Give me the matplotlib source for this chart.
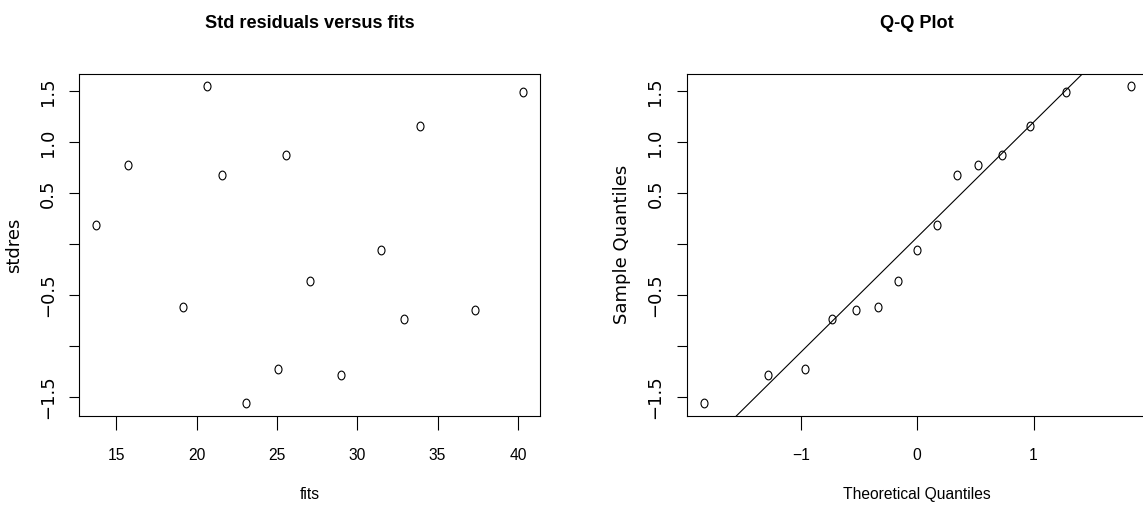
import matplotlib
matplotlib.use('Agg')
import matplotlib.pyplot as plt
import numpy as np
from matplotlib import font_manager
from matplotlib.path import Path
from matplotlib.transforms import Affine2D
from statistics import NormalDist

# values
fits = [13.73, 15.73, 19.16, 20.62, 21.60, 23.09, 25.07, 25.56,
        27.04, 29.00, 31.47, 32.93, 33.93, 37.33, 40.31]
stdres = [0.188, 0.782, -0.615, 1.549, 0.684, -1.559, -1.219, 0.880,
          -0.361, -1.285, -0.060, -0.736, 1.164, -0.645, 1.497]

yticks = [-1.5, -1.0, -0.5, 0.0, 0.5, 1.0, 1.5]
yticklabels = ['\u22121.5', '', '\u22120.5', '', '0.5', '1.0', '1.5']
fit_ticks = [15, 20, 25, 30, 35, 40]
q_ticks = [-1, 0, 1]
q_ticklabels = ['\u22121', '0', '1']

names = {f.name for f in font_manager.fontManager.ttflist}
if 'Liberation Sans Narrow' in names:
    hfont, k = 'Liberation Sans Narrow', 1.0
else:
    hfont, k = 'Liberation Sans', 0.82
vfont = 'DejaVu Sans'

# oval open marker (the reference is stretched vertically)
oval = Path.unit_circle().transformed(Affine2D().scale(0.8, 1.0))


def r_limits(v):
    lo, hi = min(v), max(v)
    pad = 0.04 * (hi - lo)
    return lo - pad, hi + pad


def style_axes(ax, xticks, xlabels, title, xlabel, ylabel):
    for s in ax.spines.values():
        s.set_linewidth(0.8)
    ax.set_yticks(yticks)
    ax.set_yticklabels(yticklabels, rotation=90, va='center',
                       family=vfont, fontsize=13)
    ax.set_xticks(xticks)
    ax.set_xticklabels(xlabels, family=hfont, fontsize=13.7 * k)
    ax.tick_params(axis='x', direction='out', length=10, width=0.8, pad=13)
    ax.tick_params(axis='y', direction='out', length=7, width=0.8, pad=9)
    ax.set_title(title, family=hfont, fontweight='bold',
                 fontsize=15.9 * k, pad=33)
    ax.set_xlabel(xlabel, family=hfont, fontsize=13.7 * k, labelpad=17)
    ax.set_ylabel(ylabel, family=vfont, fontsize=13, labelpad=11)


fig = plt.figure(figsize=(11.43, 5.15), dpi=100)

# left: standardised residuals against fitted values
ax1 = fig.add_axes([0.0691, 0.1922, 0.4033, 0.6647])
ax1.plot(fits, stdres, linestyle='none', marker=oval, markersize=6.3,
         markerfacecolor='none', markeredgecolor='black', markeredgewidth=0.8)
ax1.set_xlim(r_limits(fits))
ax1.set_ylim(r_limits(stdres))
style_axes(ax1, fit_ticks, [str(t) for t in fit_ticks],
           'Std residuals versus fits', 'fits', 'stdres')

# right: normal Q-Q plot with the quartile line
n = len(stdres)
sample = np.sort(stdres)
theo = np.array([NormalDist().inv_cdf((i - 0.5) / n) for i in range(1, n + 1)])
q1, q3 = np.quantile(stdres, [0.25, 0.75])
t1, t3 = NormalDist().inv_cdf(0.25), NormalDist().inv_cdf(0.75)
slope = (q3 - q1) / (t3 - t1)

ax2 = fig.add_axes([0.6008, 0.1922, 0.4033, 0.6647])
ax2.plot(theo, sample, linestyle='none', marker=oval, markersize=6.3,
         markerfacecolor='none', markeredgecolor='black', markeredgewidth=0.8)
ax2.axline((t1, q1), slope=slope, color='black', linewidth=0.8)
ax2.set_xlim(r_limits(theo))
ax2.set_ylim(r_limits(stdres))
style_axes(ax2, q_ticks, q_ticklabels, 'Q-Q Plot',
           'Theoretical Quantiles', 'Sample Quantiles')

fig.savefig('out.png', dpi=100)
